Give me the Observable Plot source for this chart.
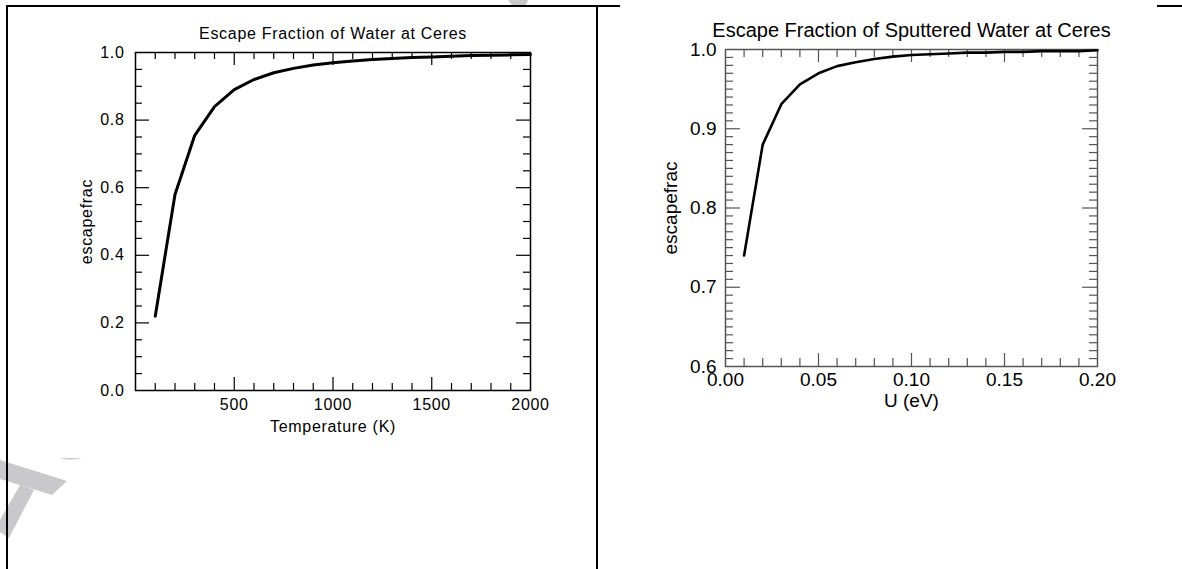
<!DOCTYPE html>
<html><head><meta charset="utf-8">
<script src="https://cdn.jsdelivr.net/npm/d3@7"></script>
<script src="https://cdn.jsdelivr.net/npm/@observablehq/plot@0.6"></script>
<style>
html,body{margin:0;padding:0;background:#fff;}
#page{position:relative;width:1182px;height:569px;overflow:hidden;background:#fff;}
.panel{position:absolute;top:0;}
.bl{position:absolute;background:#000;}
#wm{position:absolute;left:0;top:0;}
</style></head><body>
<div id="page">
<svg id="wm" width="1182" height="569">
  <polygon points="0,460 67,481 52,495 0,479" fill="#c9c9cb"/>
  <polygon points="20,485 34,490 9,538 0,532 0,520" fill="#c9c9cb"/>
  <path d="M60,458 Q70,461 82,458 Z" fill="#c9c9cb"/>
  <polygon points="508,0 528,0 526,5 512,5" fill="#c9c9cb"/>
</svg>
<div class="bl" style="left:6px;top:5px;width:2px;height:564px"></div>
<div class="bl" style="left:6px;top:5px;width:592px;height:1.5px"></div>
<div class="bl" style="left:585px;top:5px;width:35px;height:2px"></div>
<div class="bl" style="left:596px;top:5px;width:2px;height:564px"></div>
<div class="bl" style="left:1157px;top:5px;width:25px;height:2px"></div>
<div id="left" class="panel" style="left:0px"></div>
<div id="right" class="panel" style="left:597px"></div>
</div>
<script>
// ---- Left panel data: escape fraction of water vs temperature ----
const tempK = [100,200,300,400,500,600,700,800,900,1000,1100,1200,1300,1400,1500,1600,1700,1800,1900,2000];
const escWater = [0.22,0.58,0.755,0.84,0.89,0.92,0.94,0.953,0.963,0.970,0.975,0.979,0.982,0.985,0.987,0.989,0.991,0.992,0.993,0.994];
const leftXLabels = [500,1000,1500,2000];
const leftXMajor = [500,1000,1500];
const leftXMinor = [100,200,300,400,600,700,800,900,1100,1200,1300,1400,1600,1700,1800,1900];
const leftYLabels = [0.0,0.2,0.4,0.6,0.8,1.0];
const leftYMajor = [0.2,0.4,0.6,0.8];
const leftYMinor = [0.05,0.1,0.15,0.25,0.3,0.35,0.45,0.5,0.55,0.65,0.7,0.75,0.85,0.9,0.95];

// ---- Right panel data: escape fraction of sputtered water vs U ----
const uEv = [0.01,0.02,0.03,0.04,0.05,0.06,0.07,0.08,0.09,0.10,0.11,0.12,0.13,0.14,0.15,0.16,0.17,0.18,0.19,0.20];
const escSputter = [0.74,0.88,0.931,0.956,0.970,0.979,0.984,0.988,0.991,0.993,0.994,0.995,0.996,0.996,0.997,0.997,0.998,0.998,0.998,0.999];
const rightXLabels = [0.00,0.05,0.10,0.15,0.20];
const rightXMajor = [0.05,0.10,0.15];
const rightXMinor = [0.01,0.02,0.03,0.04,0.06,0.07,0.08,0.09,0.11,0.12,0.13,0.14,0.16,0.17,0.18,0.19];
const rightYLabels = [0.6,0.7,0.8,0.9,1.0];
const rightYMajor = [0.7,0.8,0.9];
const rightYMinor = [0.61,0.62,0.63,0.64,0.65,0.66,0.67,0.68,0.69,0.71,0.72,0.73,0.74,0.75,0.76,0.77,0.78,0.79,0.81,0.82,0.83,0.84,0.85,0.86,0.87,0.88,0.89,0.91,0.92,0.93,0.94,0.95,0.96,0.97,0.98,0.99];

function panel(c) {
  const fw = c.width - c.ml - c.mr, fh = c.height - c.mt - c.mb;
  const data = c.xs.map((x, i) => ({x, y: c.ys[i]}));
  const ax = c.axisColor;
  return Plot.plot({
    width: c.width, height: c.height,
    marginLeft: c.ml, marginRight: c.mr, marginTop: c.mt, marginBottom: c.mb,
    x: {domain: c.xDomain},
    y: {domain: c.yDomain},
    style: {fontFamily: "'Liberation Sans', Arial, sans-serif", fontSize: c.fontSize + "px", letterSpacing: c.ls, color: "#000", background: "transparent", overflow: "visible"},
    marks: [
      // bottom & top x ticks (inward)
      Plot.ruleX(c.xMajor, {x: d => d, insetTop: fh - c.xMajLen, stroke: ax, strokeWidth: c.tw}),
      Plot.ruleX(c.xMinor, {x: d => d, insetTop: fh - c.xMinLen, stroke: ax, strokeWidth: c.tw}),
      Plot.ruleX(c.xMajor, {x: d => d, insetBottom: fh - c.xMajLen, stroke: ax, strokeWidth: c.tw}),
      Plot.ruleX(c.xMinor, {x: d => d, insetBottom: fh - c.xMinLen, stroke: ax, strokeWidth: c.tw}),
      // left & right y ticks (inward)
      Plot.ruleY(c.yMajor, {y: d => d, insetRight: fw - c.yMajLen, stroke: ax, strokeWidth: c.tw}),
      Plot.ruleY(c.yMinor, {y: d => d, insetRight: fw - c.yMinLen, stroke: ax, strokeWidth: c.tw}),
      Plot.ruleY(c.yMajor, {y: d => d, insetLeft: fw - c.yMajLen, stroke: ax, strokeWidth: c.tw}),
      Plot.ruleY(c.yMinor, {y: d => d, insetLeft: fw - c.yMinLen, stroke: ax, strokeWidth: c.tw}),
      Plot.frame({stroke: ax, strokeWidth: c.fwid}),
      Plot.axisX({ticks: c.xLabels, tickSize: 0, tickPadding: c.xPad, tickFormat: c.xFmt, label: null}),
      Plot.axisY({ticks: c.yLabels, tickSize: 0, tickPadding: c.yPad, tickFormat: d3.format(".1f"), label: null}),
      Plot.line(data, {x: "x", y: "y", stroke: "#000", strokeWidth: c.lw, strokeLinejoin: "round"}),
      Plot.text([c.title], {frameAnchor: "top", dy: c.titleDy, lineAnchor: "middle", textAnchor: "middle", fontSize: c.titleSize, fill: "#000", text: d => d}),
      Plot.text([c.xLabel], {frameAnchor: "bottom", dy: c.xLabelDy, lineAnchor: "middle", textAnchor: "middle", fill: "#000", text: d => d}),
      Plot.text([c.yLabel], {frameAnchor: "left", dx: c.yLabelDx, rotate: -90, lineAnchor: "middle", textAnchor: "middle", fill: "#000", text: d => d})
    ]
  });
}

document.getElementById("left").appendChild(panel({
  width: 590, height: 470, ml: 135, mr: 60, mt: 52, mb: 80,
  xs: tempK, ys: escWater, xDomain: [0, 2000], yDomain: [0, 1],
  xLabels: leftXLabels, xMajor: leftXMajor, xMinor: leftXMinor,
  yLabels: leftYLabels, yMajor: leftYMajor, yMinor: leftYMinor,
  xMajLen: 13, xMinLen: 7, yMajLen: 14, yMinLen: 7,
  axisColor: "#000", tw: 1.2, fwid: 1.5, lw: 3,
  fontSize: 16, ls: "0.7px", titleSize: 16,
  xPad: 8, yPad: 11, xFmt: d3.format("d"),
  title: "Escape Fraction of Water at Ceres", titleDy: -19,
  xLabel: "Temperature (K)", xLabelDy: 36,
  yLabel: "escapefrac", yLabelDx: -49
}));

document.getElementById("right").appendChild(panel({
  width: 585, height: 470, ml: 128, mr: 85, mt: 49, mb: 104,
  xs: uEv, ys: escSputter, xDomain: [0, 0.2], yDomain: [0.6, 1.0],
  xLabels: rightXLabels, xMajor: rightXMajor, xMinor: rightXMinor,
  yLabels: rightYLabels, yMajor: rightYMajor, yMinor: rightYMinor,
  xMajLen: 13, xMinLen: 8, yMajLen: 15, yMinLen: 8,
  axisColor: "#555", tw: 1.2, fwid: 1.5, lw: 2.6,
  fontSize: 19, ls: "0px", titleSize: 20,
  xPad: 6, yPad: 9, xFmt: d3.format(".2f"),
  title: "Escape Fraction of Sputtered Water at Ceres", titleDy: -19,
  xLabel: "U (eV)", xLabelDy: 34,
  yLabel: "escapefrac", yLabelDx: -55
}));
</script>
</body></html>
